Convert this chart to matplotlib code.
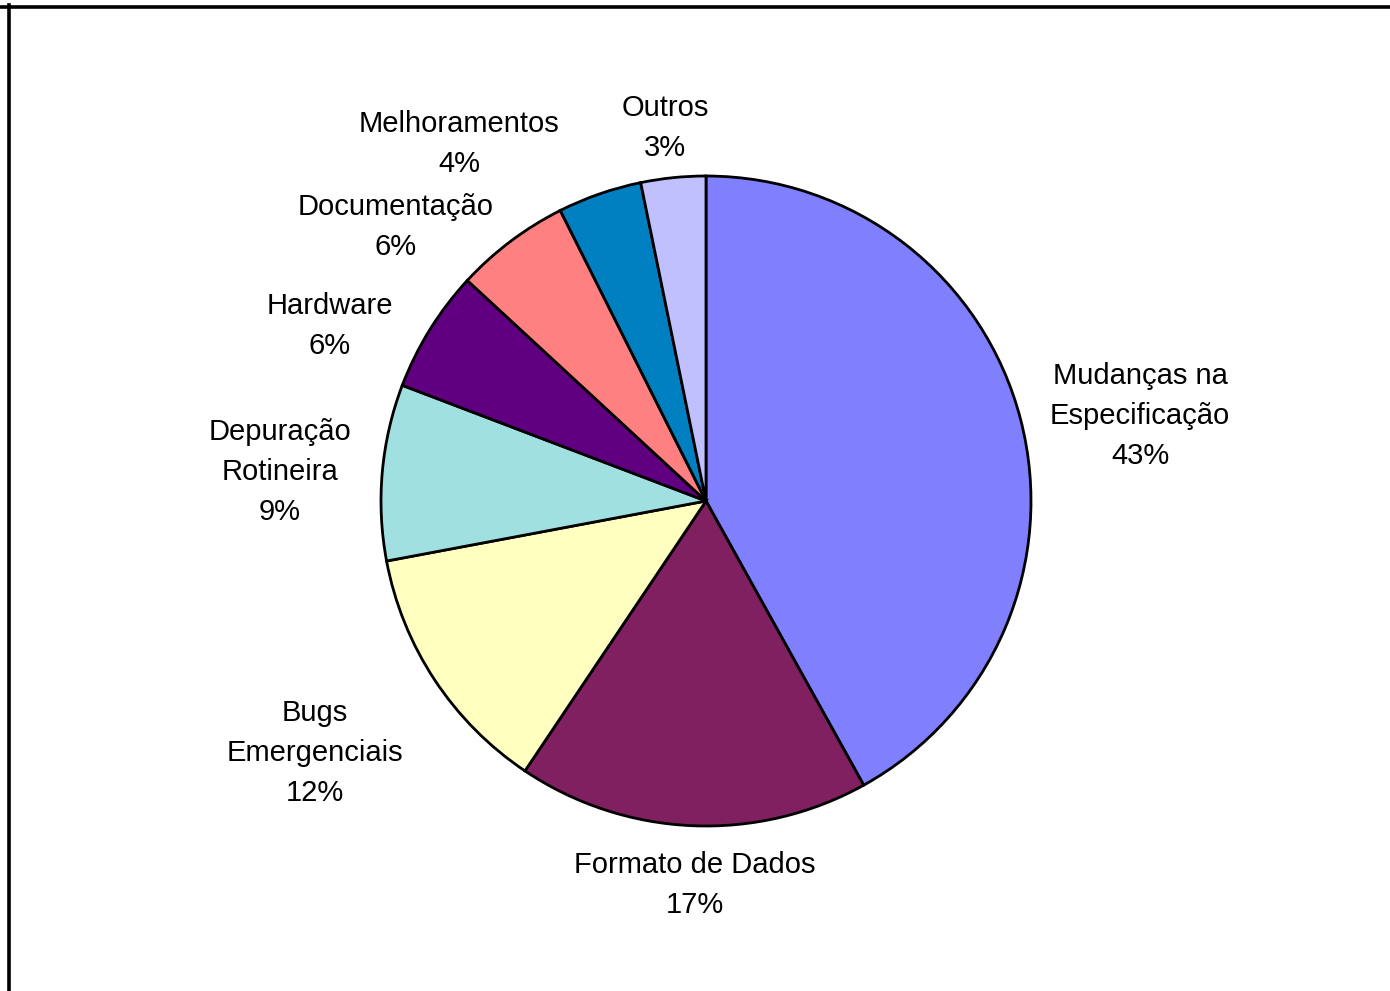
import matplotlib.pyplot as plt
from matplotlib.lines import Line2D

plt.rcParams["font.family"] = ["Liberation Sans", "DejaVu Sans"]

categories = ["Mudanças na\nEspecificação", "Formato de Dados", "Bugs\nEmergenciais",
              "Depuração\nRotineira", "Hardware", "Documentação",
              "Melhoramentos", "Outros"]
shares = [41.94, 17.47, 12.64, 8.75, 6.08, 5.73, 4.18, 3.22]
# percentages as printed on the labels
pct_labels = ["43%", "17%", "12%", "9%", "6%", "6%", "4%", "3%"]
colors = ["#8080FF", "#802060", "#FFFFC0", "#A0E0E0",
          "#600080", "#FF8080", "#0080C0", "#C0C0FF"]

# label centres in pixel coordinates (x, y from top)
label_pos = [(1140, 416), (695, 885), (315, 753), (280, 472),
             (330, 326), (396, 227), (459, 144), (665, 128)]

W, H = 1390, 991
fig = plt.figure(figsize=(W / 100, H / 100), dpi=100)
ax = fig.add_axes([0, 0, 1, 1])

cx, cy, r = 706, H - 501, 325
ax.pie(shares, colors=colors, startangle=90, counterclock=False,
       center=(cx, cy), radius=r, frame=True,
       wedgeprops=dict(edgecolor="black", linewidth=2))
ax.set_xlim(0, W)
ax.set_ylim(0, H)
ax.set_aspect("equal")
ax.axis("off")

for name, pct, (x, y) in zip(categories, pct_labels, label_pos):
    ax.text(x, H - y, f"{name}\n{pct}", ha="center", va="center",
            fontsize=21, linespacing=1.54, color="black")

# cropped chart-area frame: only top and left edges visible
fig.add_artist(Line2D([0, 1], [1 - 6.5 / H, 1 - 6.5 / H], color="black",
                      linewidth=2.6, transform=fig.transFigure))
fig.add_artist(Line2D([9 / W, 9 / W], [0, 1 - 5 / H], color="black",
                      linewidth=2.6, transform=fig.transFigure))

fig.savefig("out.png", dpi=100)
